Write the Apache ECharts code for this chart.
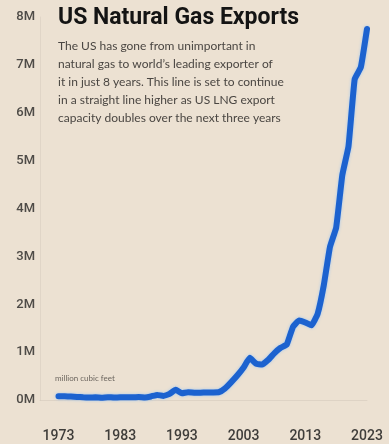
<!DOCTYPE html>
<html>
<head>
<meta charset="utf-8">
<title>US Natural Gas Exports</title>
<script src="https://cdn.jsdelivr.net/npm/echarts@6/dist/echarts.min.js"></script>
<style>
  html, body { margin: 0; padding: 0; background: #ece1d2; }
  #chart { width: 389px; height: 444px; }
</style>
</head>
<body>
<div id="chart"></div>
<script>
// years on the x axis (1970-72 only pad the left edge, no data)
const YEARS = [];
for (let y = 1970; y <= 2023; y++) YEARS.push(String(y));

// exports, million cubic feet (1973..2023)
const EXPORTS = [
  null, null, null,
  77000, 77000, 73000, 65000, 56000, 53000, 56000, 49000, 59000, 52000,
  55000, 55000, 55000, 61000, 54000, 74000, 107000, 86000, 129000, 215000,
  140000, 162000, 154000, 153000, 157000, 159000, 163000, 244000, 373000, 516000,
  680000, 880000, 760000, 740000, 840000, 980000, 1090000, 1160000, 1530000, 1660000,
  1620000, 1560000, 1800000, 2400000, 3200000, 3600000, 4700000, 5300000, 6700000, 6950000,
  7750000
];

const Y_MAX = 8000000;
const Y_STEP = 1000000;

const TITLE = 'US Natural Gas Exports';
const SUBTITLE = [
  'The US has gone from unimportant in',
  'natural gas to world\u2019s leading exporter of',
  'it in just 8 years. This line is set to continue',
  'in a straight line higher as US LNG export',
  'capacity doubles over the next three years'
];
const UNIT_NOTE = 'million cubic feet';

const chart = echarts.init(document.getElementById('chart'));

chart.setOption({
  backgroundColor: '#ece1d2',
  animation: false,
  title: {
    text: TITLE,
    subtext: SUBTITLE.join('\n'),
    left: 53,
    top: 2,
    itemGap: 7,
    textStyle: {
      fontFamily: 'Roboto',
      fontWeight: 'bold',
      fontSize: 23,
      color: '#141414'
    },
    subtextStyle: {
      fontFamily: 'Lato',
      fontSize: 12,
      lineHeight: 18,
      color: '#4a4642'
    }
  },
  graphic: [{
    type: 'text',
    left: 55,
    top: 374,
    style: {
      text: UNIT_NOTE,
      fontFamily: 'Lato',
      fontSize: 8,
      fill: '#6b655e'
    }
  }],
  grid: { left: 40, right: 22, top: 17, bottom: 44 },
  xAxis: {
    type: 'category',
    data: YEARS,
    boundaryGap: false,
    axisLine: { lineStyle: { color: 'rgba(0,0,0,0.06)' } },
    axisTick: { show: false },
    axisLabel: {
      interval: (i, v) => (Number(v) - 1973) % 10 === 0,
      margin: 29,
      fontFamily: 'Roboto',
      fontWeight: 500,
      fontSize: 14,
      color: '#3f3d3a'
    },
    splitLine: { show: false }
  },
  yAxis: {
    type: 'value',
    min: 0,
    max: Y_MAX,
    interval: Y_STEP,
    axisLine: { show: true, lineStyle: { color: 'rgba(0,0,0,0.05)' } },
    axisTick: { show: false },
    splitLine: { show: false },
    axisLabel: {
      margin: 5,
      formatter: v => (v / 1000000) + 'M',
      fontFamily: 'Roboto',
      fontWeight: 500,
      fontSize: 13,
      color: '#4e4b47'
    }
  },
  series: [{
    type: 'line',
    data: EXPORTS,
    showSymbol: false,
    smooth: 0.1,
    lineStyle: {
      width: 6,
      color: '#1c62cf',
      cap: 'round',
      join: 'round',
      shadowColor: 'rgba(130,190,255,0.7)',
      shadowBlur: 3
    }
  }]
});

window.addEventListener('resize', () => chart.resize());
</script>
</body>
</html>
